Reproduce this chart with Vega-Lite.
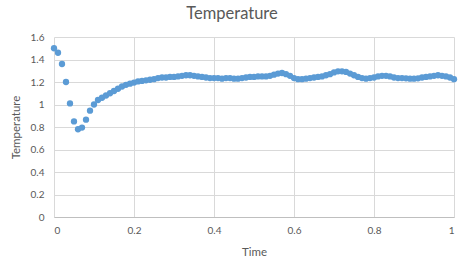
{
  "$schema": "https://vega.github.io/schema/vega-lite/v6.json",
  "width": 400,
  "height": 180,
  "autosize": "none",
  "padding": {"left": 54, "top": 37, "right": 9, "bottom": 51},
  "background": "white",
  "config": {
    "font": "Lato",
    "view": {"stroke": null},
    "axis": {
      "labelColor": "#595959",
      "titleColor": "#595959",
      "labelFontSize": 10,
      "titleFontSize": 11.5,
      "titleFontWeight": "normal",
      "gridColor": "#d9d9d9",
      "gridWidth": 1,
      "ticks": false
    }
  },
  "title": {
    "text": "Temperature",
    "fontSize": 16.5,
    "fontWeight": "normal",
    "color": "#595959",
    "font": "Lato",
    "anchor": "middle",
    "offset": 10,
    "dx": -22
  },
  "data": {
    "values": [
      {"time": 0.00, "temp": 1.50}, {"time": 0.01, "temp": 1.46}, {"time": 0.02, "temp": 1.36},
      {"time": 0.03, "temp": 1.20}, {"time": 0.04, "temp": 1.01}, {"time": 0.05, "temp": 0.85},
      {"time": 0.06, "temp": 0.78}, {"time": 0.07, "temp": 0.795}, {"time": 0.08, "temp": 0.865},
      {"time": 0.09, "temp": 0.945}, {"time": 0.10, "temp": 1.00}, {"time": 0.11, "temp": 1.04},
      {"time": 0.12, "temp": 1.06}, {"time": 0.13, "temp": 1.08}, {"time": 0.14, "temp": 1.10},
      {"time": 0.15, "temp": 1.12}, {"time": 0.16, "temp": 1.14}, {"time": 0.17, "temp": 1.16},
      {"time": 0.18, "temp": 1.175}, {"time": 0.19, "temp": 1.185}, {"time": 0.20, "temp": 1.195},
      {"time": 0.21, "temp": 1.205}, {"time": 0.22, "temp": 1.21}, {"time": 0.23, "temp": 1.215},
      {"time": 0.24, "temp": 1.22}, {"time": 0.25, "temp": 1.225}, {"time": 0.26, "temp": 1.235},
      {"time": 0.27, "temp": 1.24}, {"time": 0.28, "temp": 1.24}, {"time": 0.29, "temp": 1.245},
      {"time": 0.30, "temp": 1.245}, {"time": 0.31, "temp": 1.25}, {"time": 0.32, "temp": 1.255},
      {"time": 0.33, "temp": 1.26}, {"time": 0.34, "temp": 1.26}, {"time": 0.35, "temp": 1.255},
      {"time": 0.36, "temp": 1.25}, {"time": 0.37, "temp": 1.245}, {"time": 0.38, "temp": 1.24},
      {"time": 0.39, "temp": 1.235}, {"time": 0.40, "temp": 1.235}, {"time": 0.41, "temp": 1.235},
      {"time": 0.42, "temp": 1.23}, {"time": 0.43, "temp": 1.235}, {"time": 0.44, "temp": 1.235},
      {"time": 0.45, "temp": 1.23}, {"time": 0.46, "temp": 1.23}, {"time": 0.47, "temp": 1.235},
      {"time": 0.48, "temp": 1.24}, {"time": 0.49, "temp": 1.245}, {"time": 0.50, "temp": 1.245},
      {"time": 0.51, "temp": 1.25}, {"time": 0.52, "temp": 1.25}, {"time": 0.53, "temp": 1.25},
      {"time": 0.54, "temp": 1.255}, {"time": 0.55, "temp": 1.265}, {"time": 0.56, "temp": 1.275},
      {"time": 0.57, "temp": 1.28}, {"time": 0.58, "temp": 1.27}, {"time": 0.59, "temp": 1.255},
      {"time": 0.60, "temp": 1.235}, {"time": 0.61, "temp": 1.225}, {"time": 0.62, "temp": 1.225},
      {"time": 0.63, "temp": 1.23}, {"time": 0.64, "temp": 1.235}, {"time": 0.65, "temp": 1.24},
      {"time": 0.66, "temp": 1.245}, {"time": 0.67, "temp": 1.25}, {"time": 0.68, "temp": 1.26},
      {"time": 0.69, "temp": 1.27}, {"time": 0.70, "temp": 1.285}, {"time": 0.71, "temp": 1.295},
      {"time": 0.72, "temp": 1.295}, {"time": 0.73, "temp": 1.29}, {"time": 0.74, "temp": 1.275},
      {"time": 0.75, "temp": 1.26}, {"time": 0.76, "temp": 1.245}, {"time": 0.77, "temp": 1.235},
      {"time": 0.78, "temp": 1.23}, {"time": 0.79, "temp": 1.235}, {"time": 0.80, "temp": 1.24},
      {"time": 0.81, "temp": 1.25}, {"time": 0.82, "temp": 1.255}, {"time": 0.83, "temp": 1.255},
      {"time": 0.84, "temp": 1.25}, {"time": 0.85, "temp": 1.24}, {"time": 0.86, "temp": 1.235},
      {"time": 0.87, "temp": 1.235}, {"time": 0.88, "temp": 1.233}, {"time": 0.89, "temp": 1.23},
      {"time": 0.90, "temp": 1.23}, {"time": 0.91, "temp": 1.233}, {"time": 0.92, "temp": 1.24},
      {"time": 0.93, "temp": 1.245}, {"time": 0.94, "temp": 1.25}, {"time": 0.95, "temp": 1.255},
      {"time": 0.96, "temp": 1.26}, {"time": 0.97, "temp": 1.255}, {"time": 0.98, "temp": 1.25},
      {"time": 0.99, "temp": 1.24}, {"time": 1.00, "temp": 1.225}
    ]
  },
  "mark": {"type": "circle", "size": 40, "color": "#5b9bd5", "opacity": 1},
  "encoding": {
    "x": {
      "field": "time",
      "type": "quantitative",
      "title": "Time",
      "scale": {"domain": [0, 1], "nice": false},
      "axis": {
        "values": [0, 0.2, 0.4, 0.6, 0.8, 1],
        "format": "~g",
        "labelPadding": 8,
        "titlePadding": 11,
        "domainColor": "#bfbfbf",
        "grid": true
      }
    },
    "y": {
      "field": "temp",
      "type": "quantitative",
      "title": "Temperature",
      "scale": {"domain": [0, 1.6], "nice": false},
      "axis": {
        "values": [0, 0.2, 0.4, 0.6, 0.8, 1, 1.2, 1.4, 1.6],
        "format": "~g",
        "labelPadding": 10,
        "titlePadding": 9,
        "domain": false,
        "grid": true
      }
    }
  }
}
